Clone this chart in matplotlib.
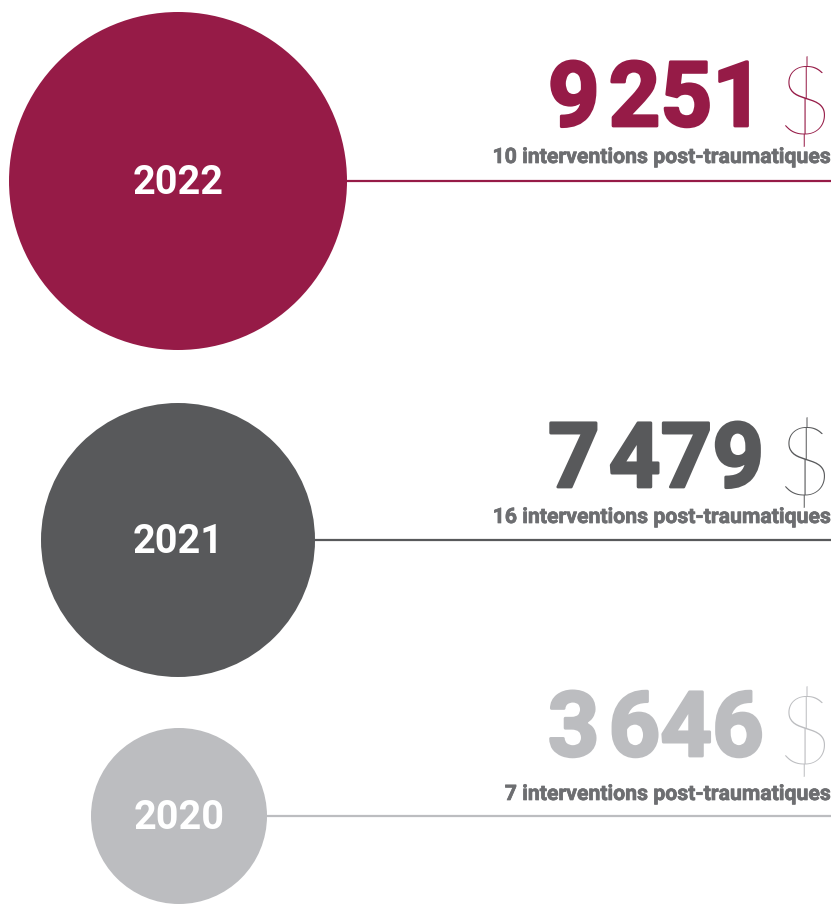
import matplotlib
matplotlib.use("Agg")
import matplotlib.pyplot as plt
import matplotlib.patheffects as pe
from matplotlib.patches import Circle

years = ["2022", "2021", "2020"]
amounts = [9251, 7479, 3646]
interventions = [10, 16, 7]

colors = ["#961B47", "#58595B", "#BCBDC0"]
sub_color = "#6D6E71"

# layout in pixel units (y grows downward)
centers = [(178, 181), (178, 540), (179, 816)]
radii = [169, 137, 88]
num_base = [126, 487, 756]
sub_base = [163, 523, 800]
num_right = 764
group_gap = 9
dollar_right = 832
line_right = 831

W, H = 835, 905
fig = plt.figure(figsize=(W / 100, H / 100), dpi=100)
ax = fig.add_axes([0, 0, 1, 1])
ax.set_xlim(0, W)
ax.set_ylim(H, 0)
ax.set_aspect("equal")
ax.axis("off")
renderer = fig.canvas.get_renderer()

font = "Roboto"


def heavy(c, w):
    return [pe.Stroke(linewidth=w, foreground=c), pe.Normal()]


for i, (yr, amt, n) in enumerate(zip(years, amounts, interventions)):
    cx, cy = centers[i]
    r = radii[i]
    c = colors[i]
    ax.add_patch(Circle((cx, cy), r, color=c, lw=0, zorder=2))
    ax.text(cx, cy + 2, yr, color="white", fontsize=28.5, fontweight="bold",
            family=font, ha="center", va="center", zorder=3)
    ax.plot([cx + r, line_right], [cy, cy], color=c, lw=1.6,
            solid_capstyle="butt", zorder=1)

    # amount drawn as two digit groups with a narrow gap between them
    thousands, rest = divmod(amt, 1000)
    t_rest = ax.text(num_right, num_base[i], f"{rest:03d}", color=c,
                     fontsize=65, fontweight="bold", family=font,
                     ha="right", va="baseline",
                     path_effects=heavy(c, 2.0))
    bb = t_rest.get_window_extent(renderer)
    x_left = ax.transData.inverted().transform((bb.x0, bb.y0))[0]
    ax.text(x_left - group_gap, num_base[i], f"{thousands}", color=c,
            fontsize=65, fontweight="bold", family=font,
            ha="right", va="baseline", path_effects=heavy(c, 2.0))

    ax.text(dollar_right, num_base[i] + 8, "$", color=c, fontsize=70,
            fontweight="light", family="Lato", ha="right", va="baseline")
    ax.text(line_right, sub_base[i], f"{n} interventions post-traumatiques",
            color=sub_color, fontsize=15.3, fontweight="bold", family=font,
            ha="right", va="baseline", path_effects=heavy(sub_color, 0.5))

fig.savefig("out.png", dpi=100)
